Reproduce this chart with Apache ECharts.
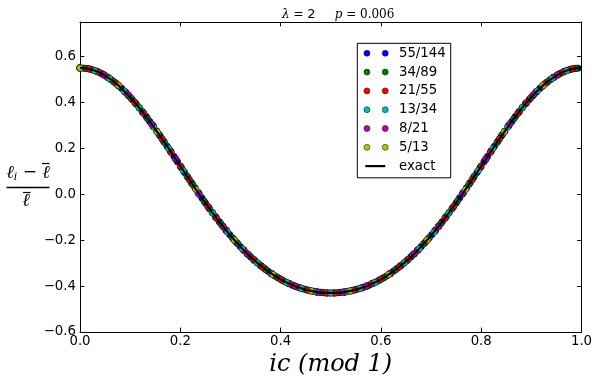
<!DOCTYPE html>
<html>
<head>
<meta charset="utf-8">
<script src="https://cdn.jsdelivr.net/npm/echarts@6/dist/echarts.min.js"></script>
<style>
  html, body { margin: 0; padding: 0; background: #fff; }
  #chart { width: 599px; height: 389px; }
</style>
</head>
<body>
<div id="chart"></div>
<script>
// values of (l_i - lbar)/lbar, one per point k/q, k = 0..q-1
const q144 = [0.550,0.549,0.547,0.544,0.540,0.534,0.527,0.518,0.509,0.498,
  0.487,0.474,0.460,0.445,0.429,0.412,0.395,0.377,0.357,0.338,
  0.317,0.297,0.275,0.254,0.231,0.209,0.187,0.164,0.141,0.118,
  0.095,0.073,0.050,0.028,0.005,-0.016,-0.038,-0.059,-0.080,-0.100,
  -0.120,-0.139,-0.158,-0.176,-0.194,-0.211,-0.228,-0.243,-0.259,-0.273,
  -0.287,-0.300,-0.312,-0.324,-0.335,-0.346,-0.356,-0.365,-0.374,-0.382,
  -0.389,-0.396,-0.402,-0.407,-0.412,-0.416,-0.420,-0.423,-0.426,-0.427,
  -0.429,-0.430,-0.430,-0.430,-0.429,-0.427,-0.426,-0.423,-0.420,-0.416,
  -0.412,-0.407,-0.402,-0.396,-0.389,-0.382,-0.374,-0.365,-0.356,-0.346,
  -0.335,-0.324,-0.312,-0.300,-0.287,-0.273,-0.259,-0.243,-0.228,-0.211,
  -0.194,-0.176,-0.158,-0.139,-0.120,-0.100,-0.080,-0.059,-0.038,-0.016,
  0.005,0.028,0.050,0.073,0.095,0.118,0.141,0.164,0.187,0.209,
  0.231,0.254,0.275,0.297,0.317,0.338,0.357,0.377,0.395,0.412,
  0.429,0.445,0.460,0.474,0.487,0.498,0.509,0.518,0.527,0.534,
  0.540,0.544,0.547,0.549]
const q89 = [0.550,0.548,0.543,0.535,0.523,0.508,0.490,0.469,0.446,0.420,
  0.392,0.361,0.329,0.296,0.261,0.225,0.189,0.152,0.115,0.079,
  0.042,0.006,-0.029,-0.064,-0.097,-0.129,-0.160,-0.189,-0.216,-0.242,
  -0.266,-0.289,-0.310,-0.329,-0.346,-0.362,-0.376,-0.388,-0.399,-0.408,
  -0.415,-0.421,-0.425,-0.428,-0.430,-0.430,-0.428,-0.425,-0.421,-0.415,
  -0.408,-0.399,-0.388,-0.376,-0.362,-0.346,-0.329,-0.310,-0.289,-0.266,
  -0.242,-0.216,-0.189,-0.160,-0.129,-0.097,-0.064,-0.029,0.006,0.042,
  0.079,0.115,0.152,0.189,0.225,0.261,0.296,0.329,0.361,0.392,
  0.420,0.446,0.469,0.490,0.508,0.523,0.535,0.543,0.548]
const q55 = [0.550,0.546,0.532,0.510,0.481,0.444,0.400,0.351,0.298,0.241,
  0.182,0.123,0.063,0.005,-0.052,-0.106,-0.156,-0.203,-0.245,-0.283,
  -0.317,-0.346,-0.370,-0.390,-0.406,-0.418,-0.426,-0.430,-0.430,-0.426,
  -0.418,-0.406,-0.390,-0.370,-0.346,-0.317,-0.283,-0.245,-0.203,-0.156,
  -0.106,-0.052,0.005,0.063,0.123,0.182,0.241,0.298,0.351,0.400,
  0.444,0.481,0.510,0.532,0.546]
const q34 = [0.550,0.538,0.504,0.449,0.378,0.293,0.200,0.103,0.008,-0.082,
  -0.165,-0.237,-0.298,-0.347,-0.384,-0.410,-0.425,-0.430,-0.425,-0.410,
  -0.384,-0.347,-0.298,-0.237,-0.165,-0.082,0.008,0.103,0.200,0.293,
  0.378,0.449,0.504,0.538]
const q21 = [0.550,0.520,0.434,0.306,0.154,-0.001,-0.142,-0.259,-0.345,-0.400,
  -0.427,-0.427,-0.400,-0.345,-0.259,-0.142,-0.001,0.154,0.306,0.434,0.520]
const q13 = [0.550,0.473,0.272,0.022,-0.199,-0.350,-0.421,-0.421,-0.350,-0.199,
  0.022,0.272,0.473]
// exact curve, sampled every 1/72
const exact = [0.550,0.547,0.540,0.527,0.509,0.487,0.460,0.429,0.395,0.357,
  0.317,0.275,0.231,0.187,0.141,0.095,0.050,0.005,-0.038,-0.080,
  -0.120,-0.158,-0.194,-0.228,-0.259,-0.287,-0.312,-0.335,-0.356,-0.374,
  -0.389,-0.402,-0.412,-0.420,-0.426,-0.429,-0.430,-0.429,-0.426,-0.420,
  -0.412,-0.402,-0.389,-0.374,-0.356,-0.335,-0.312,-0.287,-0.259,-0.228,
  -0.194,-0.158,-0.120,-0.080,-0.038,0.005,0.050,0.095,0.141,0.187,
  0.231,0.275,0.317,0.357,0.395,0.429,0.460,0.487,0.509,0.527,
  0.540,0.547,0.550]

const names = ['55/144', '34/89', '21/55', '13/34', '8/21', '5/13']
const sets = [q144, q89, q55, q34, q21, q13]
const colors = ['#0000ff', '#008000', '#ff0000', '#00bfbf', '#bf00bf', '#bfbf00']

const font = 'DejaVu Sans'
const minus = v => String(v).replace('-', '\u2212')

const dotIcon = 'path://M0,3a3,3 0 1,0 6,0a3,3 0 1,0 -6,0ZM18.3,3a3,3 0 1,0 6,0a3,3 0 1,0 -6,0ZM30,3L30,3'
const lineIcon = 'path://M0,0L0,0M1.3,1.9L21.3,1.9L21.3,4.1L1.3,4.1ZM30,6L30,6'

const myChart = echarts.init(document.getElementById('chart'), null, { renderer: 'canvas' })

const series = sets.map((vals, i) => ({
  name: names[i],
  type: 'scatter',
  symbol: 'circle',
  symbolSize: 6.5,
  itemStyle: { color: colors[i], borderColor: '#000', borderWidth: 0.5, opacity: 1 },
  data: vals.map((v, k) => [k / vals.length, v]),
  xAxisIndex: 0,
  yAxisIndex: 0
}))
series.push({
  name: 'exact',
  type: 'line',
  showSymbol: false,
  smooth: 0.3,
  color: '#000',
  lineStyle: { color: '#000', width: 2.2 },
  data: exact.map((v, k) => [k / (exact.length - 1), v]),
  xAxisIndex: 0,
  yAxisIndex: 0
})

const tick = { inside: true, length: 4.4, lineStyle: { color: '#000', width: 1 } }
const line = { show: true, onZero: false, lineStyle: { color: '#000', width: 1 } }

const option = {
  animation: false,
  backgroundColor: '#fff',
  grid: { left: 80, right: 17.5, top: 22, bottom: 57, containLabel: false, outerBoundsMode: 'none' },
  title: {
    left: 277,
    top: 3,
    text: '{i|\u03bb}{n| = }{d|2}{g|     }{i|p}{n| = 0.006}',
    textStyle: {
      fontWeight: 'normal',
      rich: {
        i: { fontFamily: 'DejaVu Serif', fontStyle: 'italic', fontWeight: 'normal', fontSize: 12, color: '#000' },
        n: { fontFamily: 'DejaVu Serif', fontWeight: 'normal', fontSize: 12, color: '#000' },
        d: { fontFamily: 'DejaVu Sans', fontWeight: 'normal', fontSize: 13, color: '#000' },
        g: { fontFamily: 'DejaVu Sans', fontWeight: 'normal', fontSize: 12, color: '#000' }
      }
    }
  },
  legend: {
    orient: 'vertical',
    left: 357.3,
    top: 43.3,
    padding: [3, 5, 4.7, 6.4],
    itemWidth: 30,
    itemHeight: 14,
    itemGap: 4.8,
    borderColor: '#000',
    borderWidth: 1,
    borderRadius: 0,
    backgroundColor: '#fff',
    textStyle: { fontFamily: font, fontSize: 13.3, color: '#000', lineHeight: 14 },
    data: names.map((n, i) => ({
      name: n,
      icon: dotIcon,
      itemStyle: { color: colors[i], borderColor: '#000', borderWidth: 0.5 }
    })).concat([{ name: 'exact', icon: lineIcon, itemStyle: { color: '#000', borderWidth: 0 } }])
  },
  xAxis: [{
    type: 'value', position: 'bottom', min: 0, max: 1, interval: 0.2,
    axisLine: line, axisTick: tick, splitLine: { show: false },
    axisLabel: { color: '#000', fontFamily: font, fontSize: 13.3, margin: 3, formatter: v => v.toFixed(1) },
    name: 'ic (mod 1)',
    nameLocation: 'middle',
    nameGap: 21,
    nameTextStyle: { fontFamily: 'DejaVu Serif', fontStyle: 'italic', fontSize: 24, color: '#000' }
  }, {
    type: 'value', position: 'top', min: 0, max: 1, interval: 0.2,
    axisLine: line, axisTick: tick, splitLine: { show: false }, axisLabel: { show: false }
  }],
  yAxis: [{
    type: 'value', position: 'left', min: -0.6, max: 0.75, interval: 0.2,
    axisLine: line, axisTick: tick, splitLine: { show: false },
    axisLabel: {
      color: '#000', fontFamily: font, fontSize: 13.3, margin: 4, showMaxLabel: false,
      formatter: v => minus(v.toFixed(1))
    }
  }, {
    type: 'value', position: 'right', min: -0.6, max: 0.75, interval: 0.2,
    axisLine: line, axisTick: tick, splitLine: { show: false }, axisLabel: { show: false }
  }],
  graphic: [
    {
      type: 'text', x: 28, y: 173, z: 10,
      style: {
        text: '{l|\u2113}{s|i}{o| \u2212 }{l|\u2113}',
        align: 'center', verticalAlign: 'middle',
        rich: {
          l: { fontFamily: 'DejaVu Serif', fontStyle: 'italic', fontSize: 18, lineHeight: 20, fill: '#000' },
          s: { fontFamily: 'DejaVu Serif', fontStyle: 'italic', fontSize: 11, lineHeight: 20, verticalAlign: 'bottom', fill: '#000' },
          o: { fontFamily: 'DejaVu Sans', fontSize: 17, lineHeight: 20, fill: '#000' }
        }
      }
    },
    { type: 'line', z: 10, shape: { x1: 42, y1: 163.5, x2: 49.5, y2: 163.5 }, style: { stroke: '#000', lineWidth: 1.2 } },
    { type: 'line', z: 10, shape: { x1: 6.5, y1: 187.5, x2: 49.5, y2: 187.5 }, style: { stroke: '#000', lineWidth: 1.3 } },
    {
      type: 'text', x: 26, y: 201, z: 10,
      style: {
        text: '\u2113', align: 'center', verticalAlign: 'middle',
        font: 'italic 18px "DejaVu Serif"', fill: '#000'
      }
    },
    { type: 'line', z: 10, shape: { x1: 23, y1: 192.5, x2: 30.5, y2: 192.5 }, style: { stroke: '#000', lineWidth: 1.2 } }
  ],
  series: series
}
myChart.setOption(option)
</script>
</body>
</html>
